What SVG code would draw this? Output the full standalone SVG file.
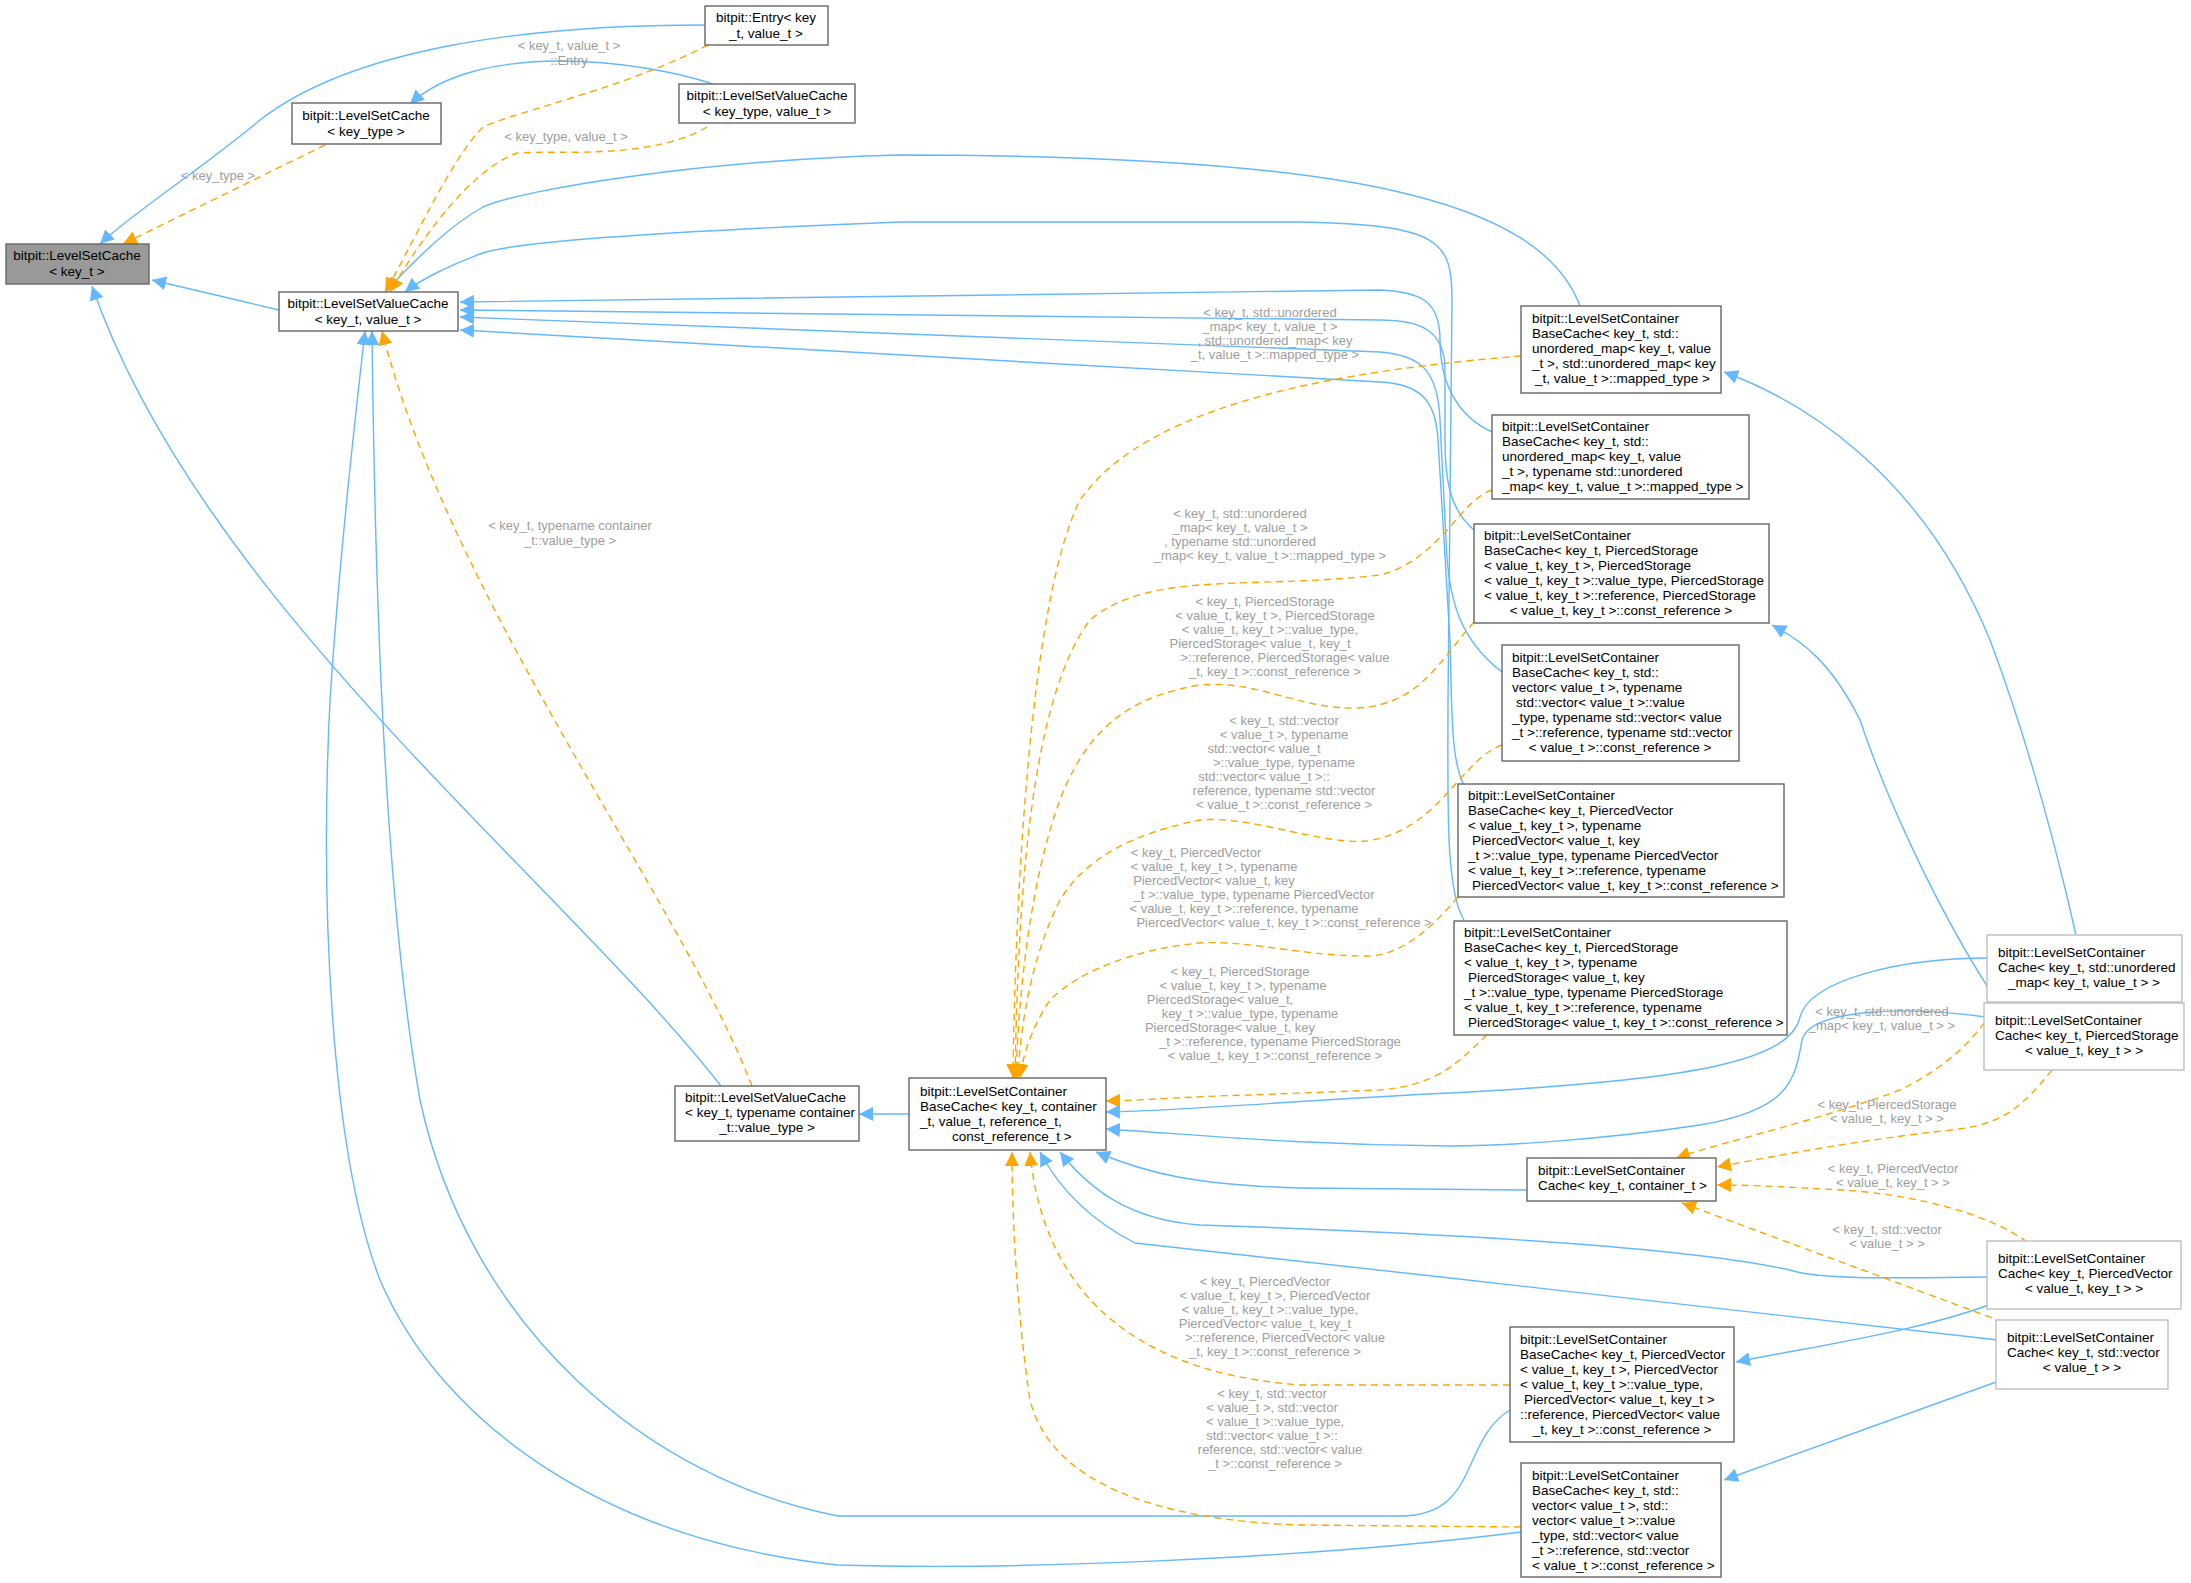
<svg xmlns="http://www.w3.org/2000/svg" width="2191" height="1583" viewBox="0 0 2191 1583">
<style>
.n rect{fill:#fff;stroke:#666;stroke-width:1.4}
.n.g rect{fill:#999}
.n.l rect{stroke:#bfbfbf}
.n text{font-family:"Liberation Sans",Arial,sans-serif;font-size:13.5px;fill:#000}
.c{text-anchor:middle}
.b{fill:none;stroke:#63b8ff;stroke-width:1.4;marker-end:url(#ab)}
.o{fill:none;stroke:#ffa500;stroke-width:1.4;stroke-dasharray:7,5;marker-end:url(#ao)}
.lb{font-family:"Liberation Sans",Arial,sans-serif;font-size:13px;fill:#9e9e9e;text-anchor:middle}
</style>
<defs>
<marker id="ab" viewBox="0 0 10 10" refX="10" refY="5" markerWidth="14" markerHeight="14" markerUnits="userSpaceOnUse" orient="auto"><path d="M0,0L10,5L0,10z" fill="#63b8ff"/></marker>
<marker id="ao" viewBox="0 0 10 10" refX="10" refY="5" markerWidth="14" markerHeight="14" markerUnits="userSpaceOnUse" orient="auto"><path d="M0,0L10,5L0,10z" fill="#ffa500"/></marker>
</defs>
<rect width="2191" height="1583" fill="#fff"/>
<g id="edges">
<path class="b" d="M705,25 C520,25 350,50 260,120 C200,170 130,215 100,244"/>
<path class="b" d="M713,84 C640,60 480,40 410,104"/>
<path class="b" d="M279,310 L152,280"/>
<path class="b" d="M721,1086 C560,880 200,600 92,286"/>
<path class="b" d="M909,1114 L859,1114"/>
<path class="b" d="M1580,306 C1540,200 1350,155 900,155 C700,160 520,190 483,207 C450,225 415,260 385,292"/>
<path class="b" d="M1464,920 C1445,890 1448,800 1448,700 L1452,300 C1452,240 1440,225 1300,222 L901,222 C700,230 520,240 483,253 C450,265 420,280 405,292"/>
<path class="b" d="M1492,432 C1455,415 1440,380 1440,340 C1440,300 1420,292 1380,290 L460,302"/>
<path class="b" d="M1474,530 C1450,510 1445,480 1445,440 L1445,370 C1445,330 1420,320 1380,320 L460,310"/>
<path class="b" d="M1502,672 C1460,640 1448,600 1446,540 L1440,420 C1438,370 1420,355 1380,352 L460,317"/>
<path class="b" d="M1464,785 C1450,760 1452,700 1450,640 L1438,440 C1436,400 1420,384 1380,382 L460,330"/>
<path class="b" d="M1510,1410 C1460,1440 1480,1516 1400,1516 L838,1516 C650,1480 470,1330 420,1100 C385,900 375,600 372,331"/>
<path class="b" d="M1521,1532 C1300,1560 1000,1570 838,1565 C600,1540 440,1420 380,1280 C330,1150 320,900 330,700 C340,550 355,420 365,331"/>
<path class="o" d="M325,145 L123,244"/>
<path class="o" d="M708,45 C620,90 520,110 483,127 C450,160 410,250 385,292"/>
<path class="o" d="M707,127 C650,160 560,150 517,153 C470,170 420,240 390,292"/>
<path class="o" d="M752,1086 C680,900 450,600 382,331"/>
<path class="o" d="M1521,356 C1350,370 1150,400 1080,500 C1030,600 1015,900 1013,1078"/>
<path class="o" d="M1492,490 C1460,500 1440,560 1380,575 C1250,590 1150,570 1090,620 C1030,700 1018,900 1015,1078"/>
<path class="o" d="M1474,622 C1440,660 1420,705 1357,708 C1300,710 1260,680 1200,685 C1140,695 1090,720 1060,800 C1030,880 1018,1000 1016,1078"/>
<path class="o" d="M1502,745 C1460,760 1440,830 1367,841 C1320,845 1250,815 1200,820 C1150,830 1090,850 1060,900 C1030,960 1020,1030 1018,1078"/>
<path class="o" d="M1458,897 C1430,930 1400,956 1367,956 C1300,956 1250,940 1200,943 C1140,948 1080,970 1050,1000 C1030,1030 1022,1060 1020,1078"/>
<path class="o" d="M1487,1035 C1460,1060 1440,1085 1380,1090 L1250,1095 C1200,1096 1150,1100 1106,1101"/>
<path class="o" d="M1510,1385 L1300,1385 C1100,1370 1040,1260 1030,1152"/>
<path class="o" d="M1521,1527 L1300,1525 C1150,1520 1050,1480 1030,1400 C1015,1300 1012,1200 1012,1152"/>
<path class="b" d="M2076,935 C2050,820 2020,720 1990,640 C1920,470 1800,400 1724,372"/>
<path class="b" d="M1998,1003 C1930,900 1880,780 1860,720 C1830,660 1800,640 1772,625"/>
<path class="b" d="M1988,958 C1900,958 1810,980 1800,1017 C1790,1060 1700,1080 1450,1093 C1300,1100 1200,1110 1106,1112"/>
<path class="b" d="M1986,1017 C1900,1005 1810,1010 1802,1040 C1795,1080 1790,1110 1700,1125 C1600,1140 1500,1146 1450,1146 C1300,1145 1200,1135 1106,1129"/>
<path class="b" d="M1527,1190 L1300,1188 C1200,1185 1150,1175 1096,1152"/>
<path class="b" d="M1988,1277 C1900,1278 1820,1280 1790,1270 C1700,1250 1500,1235 1200,1225 C1130,1220 1090,1190 1060,1152"/>
<path class="b" d="M1998,1340 L1450,1278 L1135,1243 C1090,1220 1060,1190 1040,1152"/>
<path class="b" d="M2007,1298 C1930,1330 1820,1345 1736,1362"/>
<path class="b" d="M2010,1377 L1724,1480"/>
<path class="o" d="M1998,1003 C1980,1030 1960,1060 1900,1090 C1820,1120 1730,1140 1676,1158"/>
<path class="o" d="M2052,1070 C2020,1110 2000,1125 1951,1130 C1860,1140 1780,1155 1717,1167"/>
<path class="o" d="M2027,1242 C1990,1215 1920,1195 1842,1190 C1800,1188 1760,1185 1717,1185"/>
<path class="o" d="M2003,1322 L1682,1203"/>
<text class="lb" x="218" y="180">&lt; key_type &gt;</text>
<text class="lb"><tspan x="569" y="50">&lt; key_t, value_t &gt;</tspan><tspan x="569" y="65">::Entry</tspan></text>
<text class="lb" x="566" y="141">&lt; key_type, value_t &gt;</text>
<text class="lb"><tspan x="570" y="530">&lt; key_t, typename container</tspan><tspan x="570" y="545">_t::value_type &gt;</tspan></text>
<text class="lb"><tspan x="1270" y="317">&lt; key_t, std::unordered</tspan><tspan x="1270" y="331">_map&lt; key_t, value_t &gt;</tspan><tspan x="1275" y="345">, std::unordered_map&lt; key</tspan><tspan x="1275" y="359">_t, value_t &gt;::mapped_type &gt;</tspan></text>
<text class="lb"><tspan x="1240" y="518">&lt; key_t, std::unordered</tspan><tspan x="1240" y="532">_map&lt; key_t, value_t &gt;</tspan><tspan x="1240" y="546">, typename std::unordered</tspan><tspan x="1270" y="560">_map&lt; key_t, value_t &gt;::mapped_type &gt;</tspan></text>
<text class="lb"><tspan x="1265" y="606">&lt; key_t, PiercedStorage</tspan><tspan x="1275" y="620">&lt; value_t, key_t &gt;, PiercedStorage</tspan><tspan x="1270" y="634">&lt; value_t, key_t &gt;::value_type,</tspan><tspan x="1260" y="648">PiercedStorage&lt; value_t, key_t</tspan><tspan x="1285" y="662">&gt;::reference, PiercedStorage&lt; value</tspan><tspan x="1275" y="676">_t, key_t &gt;::const_reference &gt;</tspan></text>
<text class="lb"><tspan x="1284" y="725">&lt; key_t, std::vector</tspan><tspan x="1284" y="739">&lt; value_t &gt;, typename</tspan><tspan x="1264" y="753">std::vector&lt; value_t</tspan><tspan x="1284" y="767">&gt;::value_type, typename</tspan><tspan x="1264" y="781">std::vector&lt; value_t &gt;::</tspan><tspan x="1284" y="795">reference, typename std::vector</tspan><tspan x="1284" y="809">&lt; value_t &gt;::const_reference &gt;</tspan></text>
<text class="lb"><tspan x="1196" y="857">&lt; key_t, PiercedVector</tspan><tspan x="1214" y="871">&lt; value_t, key_t &gt;, typename</tspan><tspan x="1214" y="885">PiercedVector&lt; value_t, key</tspan><tspan x="1254" y="899">_t &gt;::value_type, typename PiercedVector</tspan><tspan x="1244" y="913">&lt; value_t, key_t &gt;::reference, typename</tspan><tspan x="1284" y="927">PiercedVector&lt; value_t, key_t &gt;::const_reference &gt;</tspan></text>
<text class="lb"><tspan x="1240" y="976">&lt; key_t, PiercedStorage</tspan><tspan x="1243" y="990">&lt; value_t, key_t &gt;, typename</tspan><tspan x="1220" y="1004">PiercedStorage&lt; value_t,</tspan><tspan x="1250" y="1018">key_t &gt;::value_type, typename</tspan><tspan x="1230" y="1032">PiercedStorage&lt; value_t, key</tspan><tspan x="1280" y="1046">_t &gt;::reference, typename PiercedStorage</tspan><tspan x="1275" y="1060">&lt; value_t, key_t &gt;::const_reference &gt;</tspan></text>
<text class="lb"><tspan x="1265" y="1286">&lt; key_t, PiercedVector</tspan><tspan x="1275" y="1300">&lt; value_t, key_t &gt;, PiercedVector</tspan><tspan x="1270" y="1314">&lt; value_t, key_t &gt;::value_type,</tspan><tspan x="1265" y="1328">PiercedVector&lt; value_t, key_t</tspan><tspan x="1285" y="1342">&gt;::reference, PiercedVector&lt; value</tspan><tspan x="1275" y="1356">_t, key_t &gt;::const_reference &gt;</tspan></text>
<text class="lb"><tspan x="1272" y="1398">&lt; key_t, std::vector</tspan><tspan x="1272" y="1412">&lt; value_t &gt;, std::vector</tspan><tspan x="1275" y="1426">&lt; value_t &gt;::value_type,</tspan><tspan x="1272" y="1440">std::vector&lt; value_t &gt;::</tspan><tspan x="1280" y="1454">reference, std::vector&lt; value</tspan><tspan x="1275" y="1468">_t &gt;::const_reference &gt;</tspan></text>
<text class="lb"><tspan x="1882" y="1016">&lt; key_t, std::unordered</tspan><tspan x="1882" y="1030">_map&lt; key_t, value_t &gt; &gt;</tspan></text>
<text class="lb"><tspan x="1887" y="1109">&lt; key_t, PiercedStorage</tspan><tspan x="1887" y="1123">&lt; value_t, key_t &gt; &gt;</tspan></text>
<text class="lb"><tspan x="1893" y="1173">&lt; key_t, PiercedVector</tspan><tspan x="1893" y="1187">&lt; value_t, key_t &gt; &gt;</tspan></text>
<text class="lb"><tspan x="1887" y="1234">&lt; key_t, std::vector</tspan><tspan x="1887" y="1248">&lt; value_t &gt; &gt;</tspan></text>
</g>
<g id="n1" class="n g"><rect x="6" y="244" width="143" height="40"/><text class="c"><tspan x="77" y="260">bitpit::LevelSetCache</tspan><tspan x="77" y="276">&lt; key_t &gt;</tspan></text></g>
<g id="n2" class="n"><rect x="292" y="103" width="149" height="41"/><text class="c"><tspan x="366" y="120">bitpit::LevelSetCache</tspan><tspan x="366" y="136">&lt; key_type &gt;</tspan></text></g>
<g id="n3" class="n"><rect x="705" y="6" width="123" height="39"/><text class="c"><tspan x="766" y="22">bitpit::Entry&lt; key</tspan><tspan x="766" y="38">_t, value_t &gt;</tspan></text></g>
<g id="n4" class="n"><rect x="679" y="84" width="176" height="39"/><text class="c"><tspan x="767" y="100">bitpit::LevelSetValueCache</tspan><tspan x="767" y="116">&lt; key_type, value_t &gt;</tspan></text></g>
<g id="n5" class="n"><rect x="279" y="292" width="179" height="39"/><text class="c"><tspan x="368" y="308">bitpit::LevelSetValueCache</tspan><tspan x="368" y="324">&lt; key_t, value_t &gt;</tspan></text></g>
<g id="n6" class="n"><rect x="675" y="1086" width="184" height="55"/><text><tspan x="685" y="1102">bitpit::LevelSetValueCache</tspan><tspan x="685" y="1117">&lt; key_t, typename container</tspan><tspan class="c" x="767" y="1132">_t::value_type &gt;</tspan></text></g>
<g id="n7" class="n"><rect x="909" y="1078" width="197" height="72"/><text><tspan x="920" y="1096">bitpit::LevelSetContainer</tspan><tspan x="920" y="1111">BaseCache&lt; key_t, container</tspan><tspan x="920" y="1126">_t, value_t, reference_t,</tspan><tspan x="952" y="1141">const_reference_t &gt;</tspan></text></g>
<g id="n8" class="n"><rect x="1521" y="306" width="200" height="87"/><text><tspan x="1532" y="323">bitpit::LevelSetContainer</tspan><tspan x="1532" y="338">BaseCache&lt; key_t, std::</tspan><tspan x="1532" y="353">unordered_map&lt; key_t, value</tspan><tspan x="1532" y="368">_t &gt;, std::unordered_map&lt; key</tspan><tspan x="1535" y="383">_t, value_t &gt;::mapped_type &gt;</tspan></text></g>
<g id="n9" class="n"><rect x="1492" y="415" width="257" height="84"/><text><tspan x="1502" y="431">bitpit::LevelSetContainer</tspan><tspan x="1502" y="446">BaseCache&lt; key_t, std::</tspan><tspan x="1502" y="461">unordered_map&lt; key_t, value</tspan><tspan x="1502" y="476">_t &gt;, typename std::unordered</tspan><tspan x="1502" y="491">_map&lt; key_t, value_t &gt;::mapped_type &gt;</tspan></text></g>
<g id="n10" class="n"><rect x="1474" y="524" width="295" height="99"/><text><tspan x="1484" y="540">bitpit::LevelSetContainer</tspan><tspan x="1484" y="555">BaseCache&lt; key_t, PiercedStorage</tspan><tspan x="1484" y="570">&lt; value_t, key_t &gt;, PiercedStorage</tspan><tspan x="1484" y="585">&lt; value_t, key_t &gt;::value_type, PiercedStorage</tspan><tspan x="1484" y="600">&lt; value_t, key_t &gt;::reference, PiercedStorage</tspan><tspan class="c" x="1621" y="615">&lt; value_t, key_t &gt;::const_reference &gt;</tspan></text></g>
<g id="n11" class="n"><rect x="1502" y="645" width="237" height="116"/><text><tspan x="1512" y="662">bitpit::LevelSetContainer</tspan><tspan x="1512" y="677">BaseCache&lt; key_t, std::</tspan><tspan x="1512" y="692">vector&lt; value_t &gt;, typename</tspan><tspan x="1516" y="707">std::vector&lt; value_t &gt;::value</tspan><tspan x="1512" y="722">_type, typename std::vector&lt; value</tspan><tspan x="1512" y="737">_t &gt;::reference, typename std::vector</tspan><tspan class="c" x="1620" y="752">&lt; value_t &gt;::const_reference &gt;</tspan></text></g>
<g id="n12" class="n"><rect x="1458" y="784" width="326" height="113"/><text><tspan x="1468" y="800">bitpit::LevelSetContainer</tspan><tspan x="1468" y="815">BaseCache&lt; key_t, PiercedVector</tspan><tspan x="1468" y="830">&lt; value_t, key_t &gt;, typename</tspan><tspan x="1472" y="845">PiercedVector&lt; value_t, key</tspan><tspan x="1468" y="860">_t &gt;::value_type, typename PiercedVector</tspan><tspan x="1468" y="875">&lt; value_t, key_t &gt;::reference, typename</tspan><tspan x="1472" y="890">PiercedVector&lt; value_t, key_t &gt;::const_reference &gt;</tspan></text></g>
<g id="n13" class="n"><rect x="1454" y="921" width="333" height="114"/><text><tspan x="1464" y="937">bitpit::LevelSetContainer</tspan><tspan x="1464" y="952">BaseCache&lt; key_t, PiercedStorage</tspan><tspan x="1464" y="967">&lt; value_t, key_t &gt;, typename</tspan><tspan x="1468" y="982">PiercedStorage&lt; value_t, key</tspan><tspan x="1464" y="997">_t &gt;::value_type, typename PiercedStorage</tspan><tspan x="1464" y="1012">&lt; value_t, key_t &gt;::reference, typename</tspan><tspan x="1468" y="1027">PiercedStorage&lt; value_t, key_t &gt;::const_reference &gt;</tspan></text></g>
<g id="n14" class="n l"><rect x="1987" y="935" width="195" height="67"/><text><tspan x="1998" y="957">bitpit::LevelSetContainer</tspan><tspan x="1998" y="972">Cache&lt; key_t, std::unordered</tspan><tspan class="c" x="2084" y="987">_map&lt; key_t, value_t &gt; &gt;</tspan></text></g>
<g id="n15" class="n l"><rect x="1984" y="1003" width="200" height="67"/><text><tspan x="1995" y="1025">bitpit::LevelSetContainer</tspan><tspan x="1995" y="1040">Cache&lt; key_t, PiercedStorage</tspan><tspan class="c" x="2084" y="1055">&lt; value_t, key_t &gt; &gt;</tspan></text></g>
<g id="n16" class="n"><rect x="1527" y="1158" width="189" height="43"/><text><tspan x="1538" y="1175">bitpit::LevelSetContainer</tspan><tspan x="1538" y="1190">Cache&lt; key_t, container_t &gt;</tspan></text></g>
<g id="n17" class="n l"><rect x="1987" y="1241" width="194" height="68"/><text><tspan x="1998" y="1263">bitpit::LevelSetContainer</tspan><tspan x="1998" y="1278">Cache&lt; key_t, PiercedVector</tspan><tspan class="c" x="2084" y="1293">&lt; value_t, key_t &gt; &gt;</tspan></text></g>
<g id="n18" class="n l"><rect x="1996" y="1320" width="172" height="69"/><text><tspan x="2007" y="1342">bitpit::LevelSetContainer</tspan><tspan x="2007" y="1357">Cache&lt; key_t, std::vector</tspan><tspan class="c" x="2082" y="1372">&lt; value_t &gt; &gt;</tspan></text></g>
<g id="n19" class="n"><rect x="1510" y="1327" width="224" height="115"/><text><tspan x="1520" y="1344">bitpit::LevelSetContainer</tspan><tspan x="1520" y="1359">BaseCache&lt; key_t, PiercedVector</tspan><tspan x="1520" y="1374">&lt; value_t, key_t &gt;, PiercedVector</tspan><tspan x="1520" y="1389">&lt; value_t, key_t &gt;::value_type,</tspan><tspan x="1524" y="1404">PiercedVector&lt; value_t, key_t &gt;</tspan><tspan x="1520" y="1419">::reference, PiercedVector&lt; value</tspan><tspan class="c" x="1622" y="1434">_t, key_t &gt;::const_reference &gt;</tspan></text></g>
<g id="n20" class="n"><rect x="1521" y="1463" width="200" height="114"/><text><tspan x="1532" y="1480">bitpit::LevelSetContainer</tspan><tspan x="1532" y="1495">BaseCache&lt; key_t, std::</tspan><tspan x="1532" y="1510">vector&lt; value_t &gt;, std::</tspan><tspan x="1532" y="1525">vector&lt; value_t &gt;::value</tspan><tspan x="1532" y="1540">_type, std::vector&lt; value</tspan><tspan x="1532" y="1555">_t &gt;::reference, std::vector</tspan><tspan x="1532" y="1570">&lt; value_t &gt;::const_reference &gt;</tspan></text></g>
</svg>
